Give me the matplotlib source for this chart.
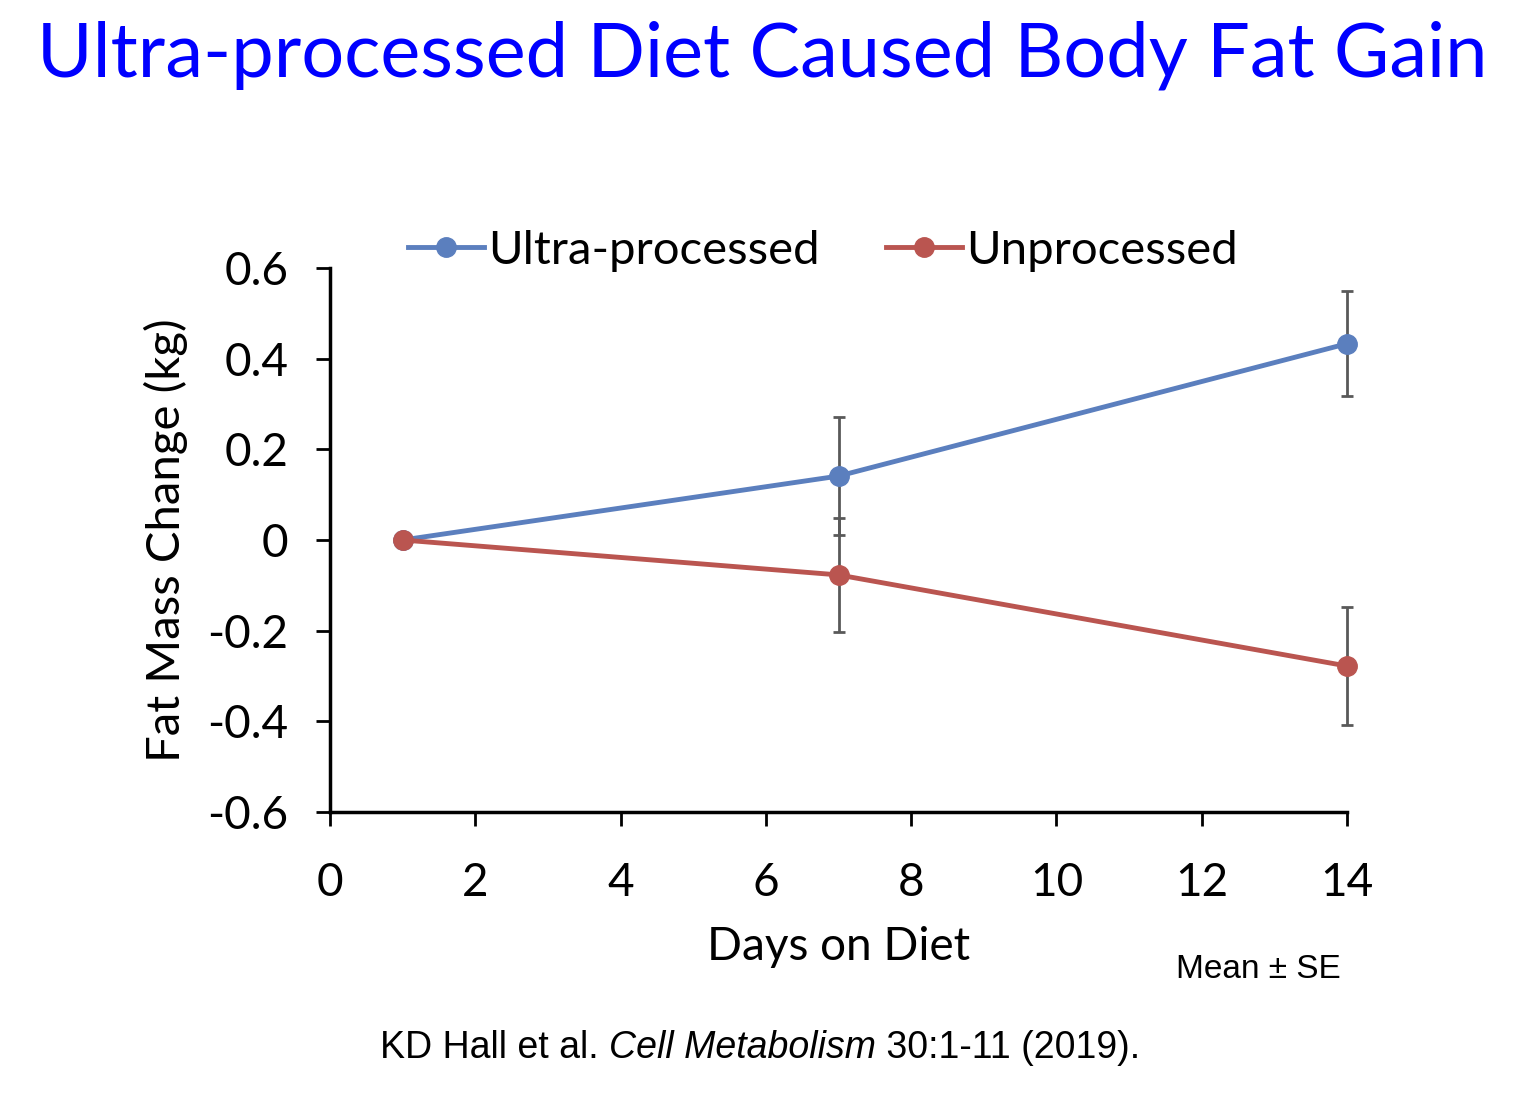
import matplotlib
matplotlib.use("Agg")
import matplotlib.pyplot as plt

days = [1, 7, 14]
ultra = [0.0, 0.141, 0.433]
ultra_se = [0.0, 0.130, 0.116]
unproc = [0.0, -0.077, -0.278]
unproc_se = [0.0, 0.126, 0.130]
series_labels = ["Ultra-processed", "Unprocessed"]
xticks = [0, 2, 4, 6, 8, 10, 12, 14]
yticks = [-0.6, -0.4, -0.2, 0, 0.2, 0.4, 0.6]
ytick_labels = ["-0.6", "-0.4", "-0.2", "0", "0.2", "0.4", "0.6"]

CAL = ["Lato", "DejaVu Sans"]
ARI = ["Liberation Sans", "DejaVu Sans"]

fig = plt.figure(figsize=(15.34, 11.08), dpi=100)
ax = fig.add_axes([330/1534, 1-812/1108, (1347-330)/1534, (812-268)/1108])

blue = "#5B7FBE"
red = "#BA5550"
ecol = "#595959"

ax.errorbar(days[1:], ultra[1:], yerr=ultra_se[1:], fmt="none", ecolor=ecol,
            elinewidth=2, capsize=4.5, capthick=2, zorder=1)
ax.errorbar(days[1:], unproc[1:], yerr=unproc_se[1:], fmt="none", ecolor=ecol,
            elinewidth=2, capsize=4.5, capthick=2, zorder=1)
ax.plot(days, ultra, color=blue, lw=3.5, marker="o", ms=14, label=series_labels[0], zorder=3)
ax.plot(days, unproc, color=red, lw=3.5, marker="o", ms=14, label=series_labels[1], zorder=3)

ax.set_xlim(0, 14)
ax.set_ylim(-0.6, 0.6)
ax.set_xticks(xticks)
ax.set_yticks(yticks)
ax.set_yticklabels(ytick_labels)
for s in ["top", "right"]:
    ax.spines[s].set_visible(False)
for s in ["left", "bottom"]:
    ax.spines[s].set_linewidth(2.5)
    ax.spines[s].set_color("black")
ax.tick_params(axis="both", direction="out", length=10, width=2, labelsize=33)
ax.tick_params(axis="y", pad=20)
ax.tick_params(axis="x", pad=26)
for lab in ax.get_xticklabels() + ax.get_yticklabels():
    lab.set_family(CAL)
for art in ax.lines + ax.collections:
    art.set_clip_on(False)

ax.set_xlabel("Days on Diet", fontsize=33, family=CAL, labelpad=16)
ax.set_ylabel("Fat Mass Change (kg)", fontsize=34, family=CAL, labelpad=14)

leg = ax.legend(loc="lower center", bbox_to_anchor=(0.485, 0.958), ncol=2, frameon=False,
                prop={"family": CAL, "size": 34}, handlelength=1.6, handletextpad=0.1,
                columnspacing=1.4, borderaxespad=0)

fig.text(762/1534, 1-55/1108, "Ultra-processed Diet Caused Body Fat Gain",
         ha="center", va="center", fontsize=54.5, color="#0000FF", family=CAL)
fig.text(1258/1534, 1-970/1108, "Mean ± SE", ha="center", va="center",
         fontsize=24, family=ARI)

fig.canvas.draw()
r = fig.canvas.get_renderer()
parts = [("KD Hall et al. ", "normal"), ("Cell Metabolism", "italic"), (" 30:1-11 (2019).", "normal")]
x = 380
for txt, st in parts:
    t = fig.text(x/1534, 1-1048/1108, txt, ha="left", va="center", fontsize=27,
                 family=ARI, style=st)
    bb = t.get_window_extent(renderer=r)
    x += bb.width

fig.savefig("out.png", dpi=100)
